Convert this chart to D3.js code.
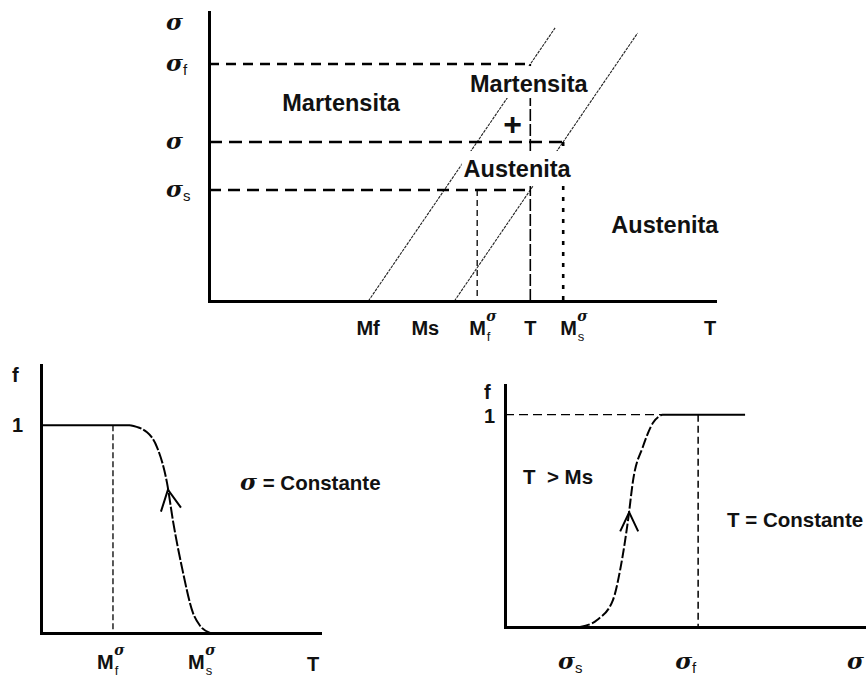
<!DOCTYPE html>
<html>
<head>
<meta charset="utf-8">
<script src="https://cdn.jsdelivr.net/npm/d3@7"></script>
<style>
  html, body { margin: 0; padding: 0; background: #fff; }
  svg { display: block; }
  .lbl   { font-family: "Liberation Sans", Arial, Helvetica, sans-serif; font-weight: bold; fill: #111; }
  .sub   { font-family: "Liberation Sans", Arial, Helvetica, sans-serif; fill: #111; }
  .greek { font-family: "DejaVu Serif", "Liberation Serif", serif; font-style: italic; font-weight: bold; fill: #111; }
  .axis path { stroke: #000; stroke-width: 3; stroke-linecap: square; }
</style>
</head>
<body>
<script>
// ---------- Stress–temperature map (arbitrary units, 0–100 on both axes) ----------
const tempKeys     = ["Mf", "Ms", "MfS", "T", "MsS"];
const tempValues   = [31.5, 48.5, 53, 63.5, 70];
const stressKeys   = ["sf", "s", "ss"];
const stressValues = [82, 55, 38.4];
// transformation finish / start boundaries as [temperature, stress] end points
const finishLine = [[31.5, 0], [68.4, 94.5]];
const startLine  = [[48.5, 0], [84.7, 92.7]];
// horizontal guides run from the stress axis to these temperatures
const hGuideTo = ["T", "MsS", "T"];
// vertical guides: temperature key and the stress they drop from
const vGuideKeys = ["MfS", "T", "MsS"];
const vGuideFrom = ["ss", "sf", "s"];
const phaseNames = ["Martensita", "Martensita", "+", "Austenita", "Austenita"];

// ---------- Martensite fraction on cooling, constant stress ----------
const coolT = [0, 31.9, 38, 41.6, 45.2, 47.3, 50.5, 54.5, 57, 60.6];
const coolF = [1, 1, 0.966, 0.894, 0.72, 0.54, 0.317, 0.096, 0.035, 0];
const coolMarkNames  = ["f", "s"];          // M_f^σ, M_s^σ
const coolMarkValues = [25.8, 60.6];

// ---------- Martensite fraction on loading, constant temperature ----------
const loadS = [20.8, 25.5, 29.9, 31.9, 34.1, 35.5, 38.2, 41, 43.5];
const loadF = [0, 0.033, 0.127, 0.269, 0.505, 0.693, 0.849, 0.962, 1];
const loadPlateauEnd = 66.5;
const loadMarkNames  = ["s", "f"];          // σ_s, σ_f
const loadMarkValues = [20.8, 53.5];

const tv = k => tempValues[tempKeys.indexOf(k)];
const sv = k => stressValues[stressKeys.indexOf(k)];

const W = 866, H = 680;
const svg = d3.select("body").append("svg").attr("width", W).attr("height", H);
svg.append("rect").attr("width", W).attr("height", H).attr("fill", "#fff");

// ----- helpers -----
function sigmaLabel(g, x, y, sub, size, subSize) {
  const t = g.append("text").attr("x", x).attr("y", y);
  t.append("tspan").attr("class", "greek").style("font-size", size + "px").text("σ");
  if (sub) t.append("tspan").attr("class", "sub").style("font-size", subSize + "px")
            .attr("dy", 4).text(sub);
  return t;
}
function mLabel(g, x, y, sub) {
  const t = g.append("text").attr("class", "lbl").attr("x", x).attr("y", y)
    .style("font-size", "20px").text("M");
  const w = t.node().getComputedTextLength();
  g.append("text").attr("class", "greek").attr("x", x + w + 0.5).attr("y", y - 14)
    .style("font-size", "14px").text("σ");
  g.append("text").attr("class", "sub").attr("x", x + w + 1).attr("y", y + 6)
    .style("font-size", "13px").text(sub);
}
function boxedText(g, txt, x, y, size, pad, weight) {
  const t = g.append("text").attr("class", "lbl").attr("x", x).attr("y", y)
    .attr("text-anchor", "middle").style("font-size", size + "px").text(txt);
  if (weight) t.style("font-weight", weight);
  if (pad) {
    const b = t.node().getBBox();
    g.insert("rect", () => t.node())
      .attr("x", b.x - pad[3]).attr("y", b.y - pad[0])
      .attr("width", b.width + pad[1] + pad[3]).attr("height", b.height + pad[0] + pad[2])
      .attr("fill", "#fff");
  }
  return t;
}

// =================== Top: phase map ===================
const topG = svg.append("g");
const xT = d3.scaleLinear().domain([0, 100]).range([209, 715]);
const yS = d3.scaleLinear().domain([0, 100]).range([301, 12]);
const lineTS = d3.line().x(d => xT(d[0])).y(d => yS(d[1]));

// boundary lines
[finishLine, startLine].forEach(l => {
  topG.append("path").attr("d", lineTS(l)).attr("fill", "none")
    .attr("stroke", "#222").attr("stroke-width", 1.1).attr("stroke-dasharray", "3,1");
});

// horizontal stress guides
const hDash = ["10,7", "13,7", "12,7"];
stressKeys.forEach((k, i) => {
  topG.append("path").attr("d", lineTS([[0, sv(k)], [tv(hGuideTo[i]), sv(k)]]))
    .attr("fill", "none").attr("stroke", "#000").attr("stroke-width", 2.6)
    .attr("stroke-dasharray", hDash[i]);
});

// vertical temperature guides
const vStyle = [
  { w: 1.3, dash: "6,4" },
  { w: 1.6, dash: "12,3" },
  { w: 2.6, dash: "4,7" }
];
vGuideKeys.forEach((k, i) => {
  topG.append("path").attr("d", lineTS([[tv(k), sv(vGuideFrom[i])], [tv(k), 0]]))
    .attr("fill", "none").attr("stroke", "#000").attr("stroke-width", vStyle[i].w)
    .attr("stroke-dasharray", vStyle[i].dash);
});

// axes
topG.append("g").attr("class", "axis").attr("transform", `translate(0,${yS(0)})`)
  .call(d3.axisBottom(xT).tickValues([]).tickSizeOuter(0));
topG.append("g").attr("class", "axis").attr("transform", `translate(${xT(0)},0)`)
  .call(d3.axisLeft(yS).tickValues([]).tickSizeOuter(0));

// phase labels (white boxes hide the lines behind them)
const phaseAt  = [[26.1, 65.7], [63.2, 72.3], [60, 57.6], [60.9, 42.9], [90.1, 23.5]];
const phasePad = [null, [5, 2, 1, 2], null, [5, 2, 4, 2], null];
phaseNames.forEach((n, i) => {
  if (n === "+") boxedText(topG, n, xT(phaseAt[i][0]), yS(phaseAt[i][1]), 32, null, "bold");
  else boxedText(topG, n, xT(phaseAt[i][0]), yS(phaseAt[i][1]), 23.5, phasePad[i]);
});

// stress-axis labels
sigmaLabel(topG, 166, yS(100) + 18, null, 23);
const sigSubs = { sf: "f", s: null, ss: "s" };
stressKeys.forEach(k => sigmaLabel(topG, 166, yS(sv(k)) + 7, sigSubs[k], 23, 15));

// temperature-axis labels
const tLabY = 335;
const tDx = { Mf: -12, Ms: -43, MfS: -8, T: -6, MsS: -3 };
tempKeys.forEach(k => {
  const x = xT(tv(k)) + tDx[k];
  if (k === "MfS") mLabel(topG, x, tLabY, "f");
  else if (k === "MsS") mLabel(topG, x, tLabY, "s");
  else topG.append("text").attr("class", "lbl").attr("x", x).attr("y", tLabY)
          .style("font-size", "20px").text(k);
});
topG.append("text").attr("class", "lbl").attr("x", xT(100) - 11).attr("y", tLabY)
  .style("font-size", "20px").text("T");

// =================== Bottom left: f vs T ===================
const bl = svg.append("g");
const xC = d3.scaleLinear().domain([0, 100]).range([41, 320]);
const yC = d3.scaleLinear().domain([0, 1.29]).range([633, 365]);
const coolPts = coolT.map((t, i) => [t, coolF[i]]);
const lineC = d3.line().x(d => xC(d[0])).y(d => yC(d[1])).curve(d3.curveMonotoneX);
const lineStraightC = d3.line().x(d => xC(d[0])).y(d => yC(d[1]));

bl.append("path").attr("d", lineStraightC([[coolMarkValues[0], 1], [coolMarkValues[0], 0]]))
  .attr("fill", "none").attr("stroke", "#000").attr("stroke-width", 1.3).attr("stroke-dasharray", "6,3");
bl.append("path").attr("d", lineC(coolPts.slice(0, 2))).attr("fill", "none")
  .attr("stroke", "#000").attr("stroke-width", 2);
bl.append("path").attr("d", lineC(coolPts.slice(1))).attr("fill", "none")
  .attr("stroke", "#000").attr("stroke-width", 2).attr("stroke-dasharray", "12,2");

// arrow on the curve
{
  const tip = [xC(45.5), yC(0.69)];
  bl.append("path")
    .attr("d", `M${tip[0] - 7},${tip[1] + 22}L${tip[0]},${tip[1]}L${tip[0] + 13},${tip[1] + 18}`)
    .attr("fill", "none").attr("stroke", "#000").attr("stroke-width", 2);
}

bl.append("g").attr("class", "axis").attr("transform", `translate(0,${yC(0)})`)
  .call(d3.axisBottom(xC).tickValues([]).tickSizeOuter(0));
bl.append("g").attr("class", "axis").attr("transform", `translate(${xC(0)},0)`)
  .call(d3.axisLeft(yC).tickValues([]).tickSizeOuter(0));

bl.append("text").attr("class", "lbl").attr("x", 12).attr("y", 382).style("font-size", "20px").text("f");
bl.append("text").attr("class", "lbl").attr("x", 12).attr("y", yC(1) + 7).style("font-size", "20px").text("1");
mLabel(bl, xC(coolMarkValues[0]) - 16, 669, coolMarkNames[0]);
mLabel(bl, xC(coolMarkValues[1]) - 22, 669, coolMarkNames[1]);
bl.append("text").attr("class", "lbl").attr("x", 307).attr("y", 671).style("font-size", "20px").text("T");
{
  const t = bl.append("text").attr("x", 240).attr("y", 490);
  t.append("tspan").attr("class", "greek").style("font-size", "23px").text("σ");
  t.append("tspan").attr("class", "lbl").style("font-size", "20.5px").text(" = Constante");
}

// =================== Bottom right: f vs σ ===================
const br = svg.append("g");
const xL = d3.scaleLinear().domain([0, 100]).range([505, 866]);
const yL = d3.scaleLinear().domain([0, 1.14]).range([627, 385]);
const loadPts = loadS.map((s, i) => [s, loadF[i]]);
const lineL = d3.line().x(d => xL(d[0])).y(d => yL(d[1])).curve(d3.curveMonotoneX);
const fTop = loadF[loadF.length - 1];
const sTop = loadS[loadS.length - 1];

br.append("path").attr("d", lineL([[0, fTop], [sTop, fTop]])).attr("fill", "none")
  .attr("stroke", "#000").attr("stroke-width", 1.3).attr("stroke-dasharray", "9,5");
br.append("path").attr("d", lineL([[loadMarkValues[1], fTop], [loadMarkValues[1], 0]]))
  .attr("fill", "none").attr("stroke", "#000").attr("stroke-width", 1.5).attr("stroke-dasharray", "7,4");
br.append("path").attr("d", lineL(loadPts)).attr("fill", "none")
  .attr("stroke", "#000").attr("stroke-width", 2).attr("stroke-dasharray", "10,2.5");
br.append("path").attr("d", lineL([[sTop, fTop], [loadPlateauEnd, fTop]])).attr("fill", "none")
  .attr("stroke", "#000").attr("stroke-width", 2);

{
  const tip = [xL(34.4), yL(0.54)];
  br.append("path")
    .attr("d", `M${tip[0] - 9},${tip[1] + 19}L${tip[0]},${tip[1]}L${tip[0] + 9},${tip[1] + 19}`)
    .attr("fill", "none").attr("stroke", "#000").attr("stroke-width", 2);
}

br.append("g").attr("class", "axis").attr("transform", `translate(0,${yL(0)})`)
  .call(d3.axisBottom(xL).tickValues([]).tickSizeOuter(0));
br.append("g").attr("class", "axis").attr("transform", `translate(${xL(0)},0)`)
  .call(d3.axisLeft(yL).tickValues([]).tickSizeOuter(0));

br.append("text").attr("class", "lbl").attr("x", 484).attr("y", 399).style("font-size", "20px").text("f");
br.append("text").attr("class", "lbl").attr("x", 484).attr("y", yL(1) + 8).style("font-size", "20px").text("1");
sigmaLabel(br, xL(loadMarkValues[0]) - 22, 669, loadMarkNames[0], 23, 15);
sigmaLabel(br, xL(loadMarkValues[1]) - 23, 669, loadMarkNames[1], 23, 15);
sigmaLabel(br, 847, 669, null, 23);
br.append("text").attr("class", "lbl").attr("x", 523).attr("y", 484).style("font-size", "20.5px")
  .style("white-space", "pre").text("T  > Ms");
br.append("text").attr("class", "lbl").attr("x", 727).attr("y", 527).style("font-size", "20.5px")
  .text("T = Constante");
</script>
</body>
</html>
